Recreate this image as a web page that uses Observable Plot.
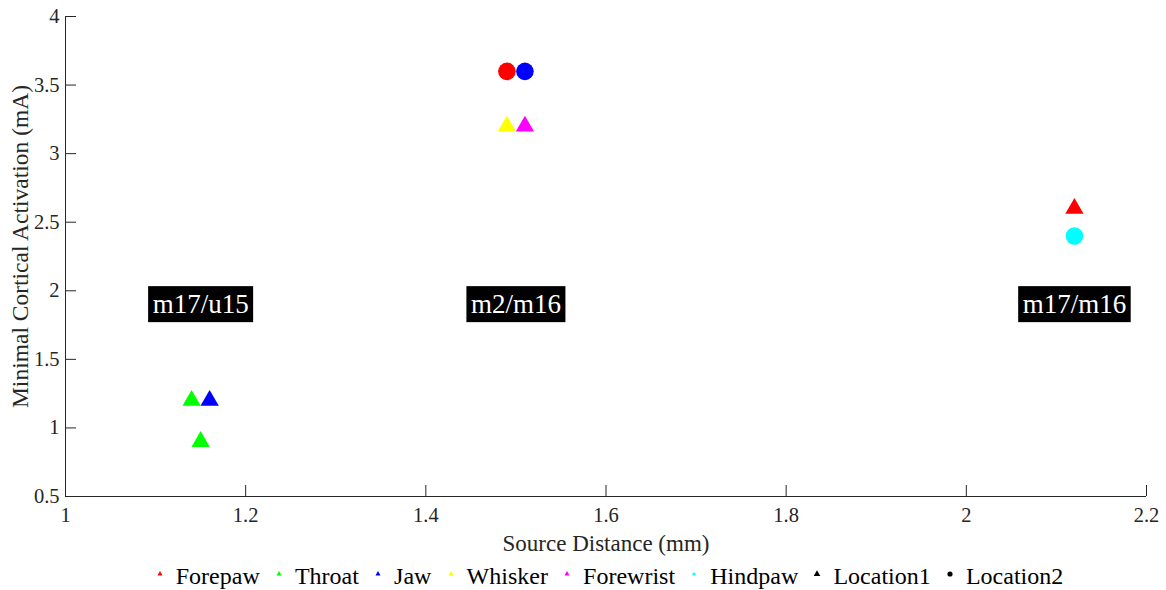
<!DOCTYPE html>
<html>
<head>
<meta charset="utf-8">
<script src="https://cdn.jsdelivr.net/npm/d3@7"></script>
<script src="https://cdn.jsdelivr.net/npm/@observablehq/plot@0.6"></script>
<style>
  html, body { margin: 0; padding: 0; background: #fff; font-family: "Liberation Serif", "DejaVu Serif", serif; }
  #chart { width: 1166px; height: 590px; position: relative; overflow: hidden; }
  #legend { display: flex; justify-content: center; align-items: center;
            height: 30px; line-height: 30px; padding: 5px 0 0 51px;
            font-size: 24px; color: #000; column-gap: 13.2px; }
  #legend .item { display: flex; align-items: center; white-space: nowrap; }
  #legend .item svg { width: 12px; height: 12px; margin-right: 10px; position: relative; top: -2px; overflow: visible; }
</style>
</head>
<body>
<div id="chart"></div>
<script>
// Body parts and their marker colours
const bodyParts = ["Forepaw", "Throat", "Jaw", "Whisker", "Forewrist", "Hindpaw"];
const partColors = ["#ff0000", "#00ff00", "#0000ff", "#ffff00", "#ff00ff", "#00ffff"];

// Stimulation locations (marker shapes)
const locations = ["Location1", "Location2"];

// Each measured point: body part, location, source distance (mm), minimal current (mA)
const pointPart     = ["Throat", "Jaw", "Throat", "Forepaw", "Jaw", "Whisker", "Forewrist", "Forepaw", "Hindpaw"];
const pointLocation = ["Location1", "Location1", "Location1", "Location2", "Location2", "Location1", "Location1", "Location1", "Location2"];
const pointDistance = [1.14, 1.16, 1.15, 1.49, 1.51, 1.49, 1.51, 2.12, 2.12];
const pointCurrent  = [1.2, 1.2, 0.9, 3.6, 3.6, 3.2, 3.2, 2.6, 2.4];

// Electrode-pair group labels
const groupNames    = ["m17/u15", "m2/m16", "m17/m16"];
const groupDistance = [1.15, 1.5, 2.12];
const groupCurrent  = [1.9, 1.9, 1.9];

// Axis ticks and titles
const xTicks = [1, 1.2, 1.4, 1.6, 1.8, 2, 2.2];
const yTicks = [0.5, 1, 1.5, 2, 2.5, 3, 3.5, 4];
const xLabel = "Source Distance (mm)";
const yLabel = "Minimal Cortical Activation (mA)";

const points = pointPart.map((part, i) => ({
  part, location: pointLocation[i], distance: pointDistance[i], current: pointCurrent[i]
}));
const groups = groupNames.map((name, i) => ({name, distance: groupDistance[i], current: groupCurrent[i]}));

const axisColor = "#262626";
const serif = "Liberation Serif, DejaVu Serif, serif";

const plot = Plot.plot({
  width: 1166,
  height: 556,
  marginLeft: 65,
  marginRight: 20,
  marginTop: 16,
  marginBottom: 60,
  style: {fontFamily: serif, fontSize: "20.5px", color: axisColor, background: "#fff"},
  x: {domain: [1, 2.2]},
  y: {domain: [0.5, 4]},
  color: {domain: bodyParts, range: partColors},
  marks: [
    // axis lines (left and bottom only)
    Plot.ruleY([0.5], {stroke: axisColor}),
    Plot.ruleX([1], {stroke: axisColor}),
    // inward tick marks
    Plot.axisX({ticks: xTicks, tickSize: 11, dy: -11, tickFormat: () => "", label: null, stroke: axisColor}),
    Plot.axisY({ticks: yTicks, tickSize: 11, dx: 11, tickFormat: () => "", label: null, stroke: axisColor}),
    // tick labels
    Plot.axisX({ticks: xTicks, tickSize: 0, tickPadding: 11, tickFormat: d => String(d), label: null,
                fontSize: 20.5, fontFamily: serif, fontVariant: "normal"}),
    Plot.axisY({ticks: yTicks, tickSize: 0, tickPadding: 6, tickFormat: d => String(d), label: null,
                fontSize: 20.5, fontFamily: serif, fontVariant: "normal"}),
    // axis titles
    Plot.text([xLabel], {text: d => d, frameAnchor: "bottom", dy: 47.5, fontSize: 23, fill: axisColor,
                         lineAnchor: "middle", textAnchor: "middle", fontFamily: serif}),
    Plot.text([yLabel], {text: d => d, frameAnchor: "left", rotate: -90, dx: -45, dy: -10, fontSize: 23.5, fill: axisColor,
                         lineAnchor: "middle", textAnchor: "middle", fontFamily: serif}),
    // measurements
    Plot.dot(points.filter(d => d.location === "Location1"), {
      x: "distance", y: "current", fill: "part", symbol: "triangle", r: 6.8
    }),
    Plot.dot(points.filter(d => d.location === "Location2"), {
      x: "distance", y: "current", fill: "part", symbol: "circle", r: 8.8
    }),
    // group labels (boxes added after layout)
    Plot.text(groups, {
      x: "distance", y: "current", text: "name", fill: "white", fontSize: 27, fontFamily: serif,
      lineAnchor: "middle", textAnchor: "middle"
    })
  ]
});

const chart = document.getElementById("chart");
chart.appendChild(plot);

// Black boxes behind the group labels, sized from the rendered text
const svgNS = "http://www.w3.org/2000/svg";
d3.select(plot).selectAll("text")
  .filter(function () { return groupNames.includes(this.textContent); })
  .each(function () {
    const b = this.getBBox();
    const rect = document.createElementNS(svgNS, "rect");
    rect.setAttribute("x", b.x - 4.5);
    rect.setAttribute("y", b.y - 3);
    rect.setAttribute("width", b.width + 9);
    rect.setAttribute("height", b.height + 6);
    rect.setAttribute("fill", "#000");
    const t = this.getAttribute("transform");
    if (t) rect.setAttribute("transform", t);
    this.parentNode.insertBefore(rect, this);
  });

// Legend below the plot
const legend = document.createElement("div");
legend.id = "legend";
chart.appendChild(legend);

const legendEntries = [
  ...bodyParts.map((p, i) => ({label: p, color: partColors[i], shape: p === "Hindpaw" ? "circle" : "triangle", size: 11})),
  {label: locations[0], color: "#000", shape: "triangle", size: 19},
  {label: locations[1], color: "#000", shape: "circle", size: 28}
];
const legendSel = d3.select(legend).selectAll("div.item").data(legendEntries).join("div").attr("class", "item");
legendSel.append("svg").attr("viewBox", "-6 -6 12 12")
  .append("path")
  .attr("d", d => d3.symbol(d.shape === "circle" ? d3.symbolCircle : d3.symbolTriangle, d.shape === "circle" ? d.size * 0.75 : d.size)())
  .attr("fill", d => d.color);
legendSel.append("span").text(d => d.label);
</script>
</body>
</html>
